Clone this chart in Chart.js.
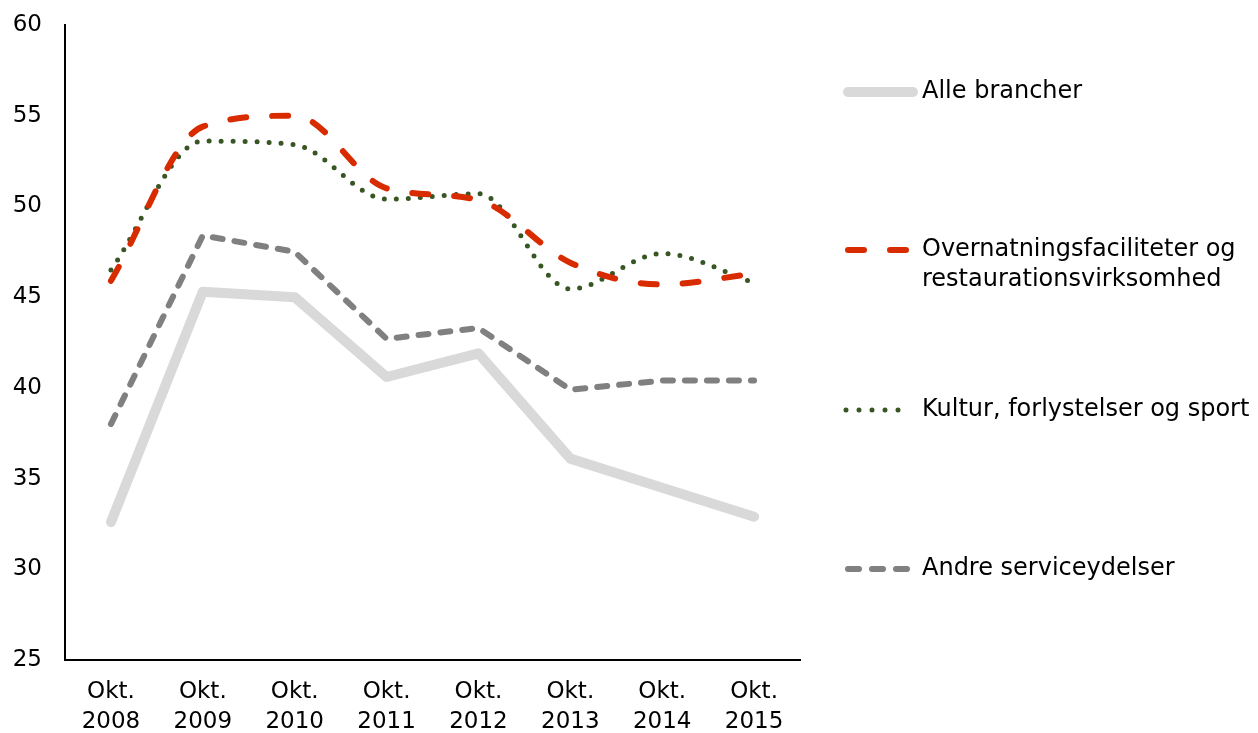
<!DOCTYPE html>
<html>
<head>
<meta charset="utf-8">
<script src="https://cdn.jsdelivr.net/npm/chart.js@4/dist/chart.umd.min.js"></script>
<style>
  html, body { margin: 0; padding: 0; background: #fff; }
  #wrap { width: 1258px; height: 733px; }
</style>
</head>
<body>
<div id="wrap"><canvas id="chart"></canvas></div>
<script>
const years = [["Okt.", "2008"], ["Okt.", "2009"], ["Okt.", "2010"], ["Okt.", "2011"],
               ["Okt.", "2012"], ["Okt.", "2013"], ["Okt.", "2014"], ["Okt.", "2015"]];
const alleBrancher = [32.6, 45.3, 45.0, 40.6, 41.9, 36.1, 34.5, 32.9];
const overnatning = [45.9, 54.4, 55.0, 51.0, 50.35, 46.9, 45.7, 46.3];
const kultur = [46.5, 53.6, 53.4, 50.4, 50.7, 45.45, 47.4, 45.8];
const andreService = [38.0, 48.4, 47.5, 42.7, 43.3, 39.9, 40.4, 40.4];
const legendLabels = [["Alle brancher"], ["Overnatningsfaciliteter og", "restaurationsvirksomhed"],
                      ["Kultur, forlystelser og sport"], ["Andre serviceydelser"]];

const FONT = "'DejaVu Sans', Verdana, sans-serif";

// legend on the right side, drawn from the dataset styles
const sideLegend = {
    id: 'sideLegend',
    afterDraw(chart) {
        const ctx = chart.ctx;
        const rowsY = [92, 250, 410, 569];
        chart.data.datasets.forEach((ds, i) => {
            const y = rowsY[i];
            ctx.save();
            ctx.strokeStyle = ds.borderColor;
            ctx.lineWidth = ds.borderWidth;
            ctx.lineCap = 'round';
            ctx.setLineDash(ds.legendDash);
            ctx.beginPath();
            ctx.moveTo(ds.legendX[0], y);
            ctx.lineTo(ds.legendX[1], y);
            ctx.stroke();
            ctx.restore();

            ctx.save();
            ctx.fillStyle = '#000';
            ctx.font = '24px ' + FONT;
            ctx.textBaseline = 'middle';
            legendLabels[i].forEach((t, j) => ctx.fillText(t, 922, y + j * 30));
            ctx.restore();
        });
    }
};

new Chart(document.getElementById('chart'), {
    type: 'line',
    data: {
        labels: years,
        datasets: [
            {
                label: "Alle brancher",
                data: alleBrancher,
                borderColor: '#d9d9d9',
                borderWidth: 10,
                borderCapStyle: 'round',
                borderJoinStyle: 'round',
                tension: 0,
                legendDash: [],
                legendX: [848, 913]
            },
            {
                label: "Overnatningsfaciliteter og restaurationsvirksomhed",
                data: overnatning,
                borderColor: '#d92b00',
                borderWidth: 6,
                borderDash: [16, 26],
                borderCapStyle: 'round',
                cubicInterpolationMode: 'monotone',
                legendDash: [16, 26],
                legendX: [848, 907]
            },
            {
                label: "Kultur, forlystelser og sport",
                data: kultur,
                borderColor: '#375623',
                borderWidth: 5,
                borderDash: [0, 12],
                borderCapStyle: 'round',
                cubicInterpolationMode: 'monotone',
                legendDash: [0, 13],
                legendX: [846, 911]
            },
            {
                label: "Andre serviceydelser",
                data: andreService,
                borderColor: '#808080',
                borderWidth: 6,
                borderDash: [10, 12],
                borderCapStyle: 'round',
                tension: 0,
                legendDash: [11, 13],
                legendX: [848, 907]
            }
        ]
    },
    options: {
        responsive: true,
        maintainAspectRatio: false,
        animation: false,
        layout: { padding: { left: 0, right: 458, top: 25, bottom: 0 } },
        elements: { point: { radius: 0 } },
        plugins: {
            legend: { display: false },
            tooltip: { enabled: false }
        },
        scales: {
            x: {
                offset: true,
                grid: { display: false, drawTicks: true, tickLength: 17 },
                border: { color: '#000', width: 2 },
                afterFit: (scale) => { scale.height = 73; },
                ticks: {
                    color: '#000',
                    font: { family: FONT, size: 23, lineHeight: 1.3 },
                    maxRotation: 0,
                    autoSkip: false,
                    padding: 0
                }
            },
            y: {
                min: 25,
                max: 60,
                grid: { display: false, drawTicks: true, tickLength: 23 },
                border: { color: '#000', width: 2 },
                afterFit: (scale) => { scale.width = 65; },
                ticks: {
                    stepSize: 5,
                    color: '#000',
                    font: { family: FONT, size: 23 },
                    padding: 0
                }
            }
        }
    },
    plugins: [sideLegend]
});
</script>
</body>
</html>
